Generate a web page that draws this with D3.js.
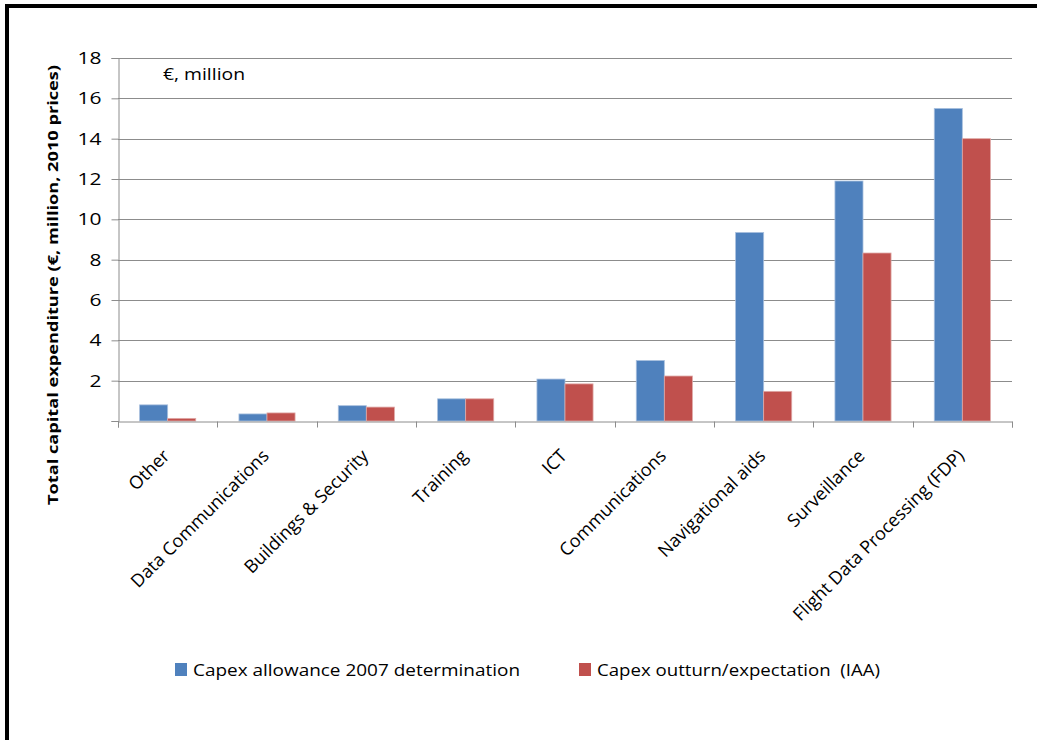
<!DOCTYPE html>
<html>
<head>
<meta charset="utf-8">
<script src="https://cdn.jsdelivr.net/npm/d3@7"></script>
<style>
  html, body { margin: 0; padding: 0; background: #fff; }
  svg { display: block; }
  text { font-family: "Open Sans", "Noto Sans", sans-serif; fill: #000; }
</style>
</head>
<body>
<svg id="chart" width="1037" height="740"></svg>
<script>
// Capital expenditure by programme area (€ million, 2010 prices)
const categories = [
  "Other", "Data Communications", "Buildings & Security", "Training", "ICT",
  "Communications", "Navigational aids", "Surveillance", "Flight Data Processing (FDP)"
];
const seriesNames = ["Capex allowance 2007 determination", "Capex outturn/expectation  (IAA)"];
const allowance = [0.8, 0.35, 0.76, 1.1, 2.08, 3.0, 9.35, 11.9, 15.5];
const outturn   = [0.13, 0.4, 0.69, 1.1, 1.84, 2.23, 1.47, 8.33, 14.0];
const yTicks = [2, 4, 6, 8, 10, 12, 14, 16, 18];
const colors = ["#4F81BD", "#C0504D"];

const svg = d3.select("#chart");
svg.append("rect").attr("width", 1037).attr("height", 740).attr("fill", "#fff");

// frame (left and top edges)
svg.append("line").attr("x1", 7).attr("x2", 7).attr("y1", 4).attr("y2", 740)
  .attr("stroke", "#000").attr("stroke-width", 4);
svg.append("line").attr("x1", 5).attr("x2", 1037).attr("y1", 6).attr("y2", 6)
  .attr("stroke", "#000").attr("stroke-width", 4);

const plot = { left: 118, right: 1012, top: 58, bottom: 421 };

const x0 = d3.scaleBand().domain(categories).range([plot.left, plot.right]).padding(0);
const x1 = d3.scaleBand().domain([0, 1]).range([0, x0.bandwidth()])
  .paddingInner(0).paddingOuter(0.77);
const y = d3.scaleLinear().domain([0, 18]).range([plot.bottom, plot.top]);

// gridlines
svg.append("g").selectAll("line").data(yTicks).join("line")
  .attr("x1", plot.left).attr("x2", plot.right)
  .attr("y1", d => Math.round(y(d)) + 0.5).attr("y2", d => Math.round(y(d)) + 0.5)
  .attr("stroke", "#8c8c8c").attr("stroke-width", 1);

// bars
const rows = categories.map((c, i) => ({ c, v: [allowance[i], outturn[i]] }));
const groups = svg.append("g").selectAll("g").data(rows).join("g")
  .attr("transform", d => `translate(${x0(d.c)},0)`);
groups.selectAll("rect").data(d => d.v.map((v, k) => ({ v, k }))).join("rect")
  .attr("x", d => x1(d.k))
  .attr("width", x1.bandwidth())
  .attr("y", d => y(d.v))
  .attr("height", d => y(0) - y(d.v))
  .attr("fill", d => colors[d.k])
  .attr("stroke", d => d.k === 0 ? "#a9c0de" : "#dfa8a6")
  .attr("stroke-width", 0.8);

// y axis
const yAxis = d3.axisLeft(y).tickValues([0].concat(yTicks)).tickSize(7).tickPadding(10)
  .tickFormat(d => d === 0 ? "" : d);
const yg = svg.append("g").attr("transform", `translate(${plot.left + 0.5},0)`).call(yAxis);
yg.select(".domain").attr("stroke", "#8c8c8c");
yg.selectAll(".tick line").attr("stroke", "#8c8c8c");
yg.selectAll(".tick text")
  .attr("font-size", 17)
  .attr("textLength", d => String(d).length * 12)
  .attr("lengthAdjust", "spacingAndGlyphs")
  .style("font-family", "'Open Sans', sans-serif");

// x axis
const xAxis = d3.axisBottom(x0).tickSize(6).tickFormat("");
const xg = svg.append("g").attr("transform", `translate(0,${plot.bottom + 0.5})`).call(xAxis);
xg.select(".domain").attr("stroke", "#8c8c8c");
xg.selectAll(".tick").remove();
const edges = categories.map(c => x0(c)).concat([plot.right]);
xg.selectAll(".edge").data(edges).join("line")
  .attr("class", "edge")
  .attr("x1", d => Math.round(d) + 0.5).attr("x2", d => Math.round(d) + 0.5)
  .attr("y1", 0).attr("y2", 6)
  .attr("stroke", "#8c8c8c");

// category labels, rotated
svg.append("g").selectAll("text").data(categories).join("text")
  .attr("transform", d => `translate(${x0(d) + x0.bandwidth() / 2 + 3},${plot.bottom + 36}) rotate(-45)`)
  .attr("text-anchor", "end")
  .attr("font-size", 18)
  .text(d => d);

// y-axis title
svg.append("text")
  .attr("transform", `translate(58,${(65 + 505) / 2}) rotate(-90)`)
  .attr("text-anchor", "middle")
  .attr("font-size", 15)
  .attr("font-weight", "bold")
  .attr("textLength", 440)
  .attr("lengthAdjust", "spacingAndGlyphs")
  .text("Total capital expenditure (€, million, 2010 prices)");

// unit note
svg.append("text")
  .attr("x", 163).attr("y", 80)
  .attr("font-size", 17)
  .attr("textLength", 82)
  .attr("lengthAdjust", "spacingAndGlyphs")
  .text("€, million");

// legend
const legend = [
  { x: 175, tx: 193, w: 327 },
  { x: 579, tx: 597, w: 283 }
];
const lg = svg.append("g").selectAll("g").data(seriesNames).join("g");
lg.append("rect")
  .attr("x", (d, i) => legend[i].x).attr("y", 663)
  .attr("width", 12).attr("height", 13)
  .attr("fill", (d, i) => colors[i]);
lg.append("text")
  .attr("x", (d, i) => legend[i].tx).attr("y", 676)
  .attr("font-size", 17)
  .attr("textLength", (d, i) => legend[i].w)
  .attr("lengthAdjust", "spacingAndGlyphs")
  .style("white-space", "pre")
  .text(d => d);
</script>
</body>
</html>
